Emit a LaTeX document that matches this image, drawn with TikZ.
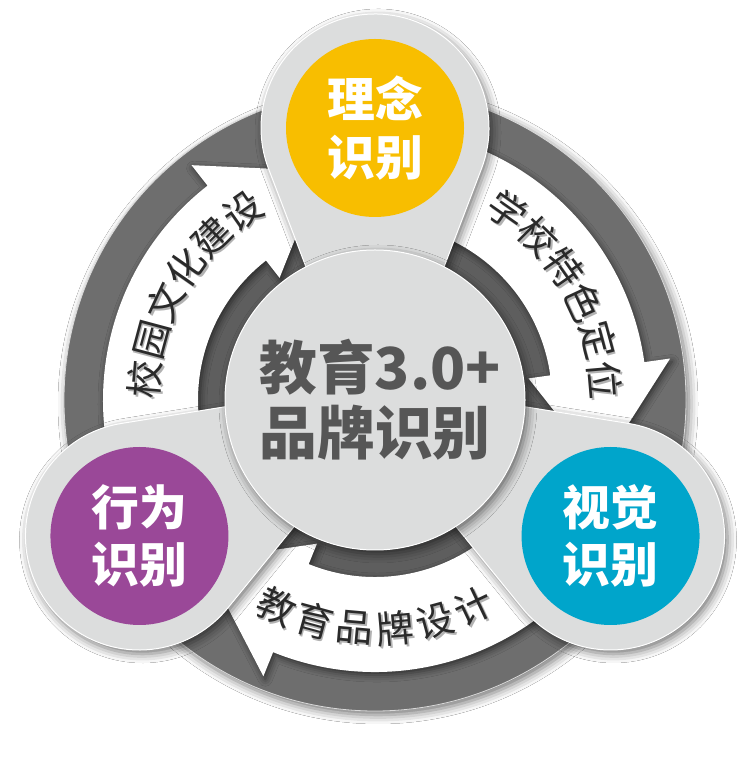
\documentclass[tikz,border=0pt]{standalone}
\usepackage{fontspec}
\newfontfamily\cjk{Noto Sans CJK SC}
\usetikzlibrary{calc,shadows.blur}
\definecolor{ringgray}{HTML}{6E6E6E}
\definecolor{innergray}{HTML}{5E5E5E}
\definecolor{satgray}{HTML}{DCDDDD}
\definecolor{cyel}{HTML}{F8BE00}
\definecolor{cpur}{HTML}{9A4898}
\definecolor{ccya}{HTML}{00A5CB}
\definecolor{ctext}{HTML}{565656}
\definecolor{atext}{HTML}{2A2A2A}
\begin{document}
\begin{tikzpicture}[x=1bp,y=1bp,
  softshadow/.style={blur shadow={shadow xshift=3bp, shadow yshift=-4bp, shadow blur radius=9bp, shadow opacity=55}},
  arrowshadow/.style={blur shadow={shadow xshift=2bp, shadow yshift=-3bp, shadow blur radius=7bp, shadow opacity=60}},
  sattext/.style={text=white, align=center, font=\cjk\bfseries\fontsize{48}{58}\selectfont, inner sep=0pt},
  centertext/.style={text=ctext, font=\cjk\bfseries\fontsize{58}{66}\selectfont, inner sep=0pt},
  arctext/.style={text=atext, font=\cjk\fontsize{38}{38}\selectfont, inner sep=0pt},
  arcshadowtext/.style={text=black, opacity=0.3, font=\cjk\fontsize{38}{38}\selectfont, inner sep=0pt}
]
\useasboundingbox (0,0) rectangle (750,762);
\fill[white] (0,0) rectangle (750,762);
\coordinate (C) at (375,362);
\begin{scope}[shift={(375,362)}]
  % outer disk
  \fill[ringgray, softshadow, draw=white!85!black, line width=0.8bp] (0,0) circle (311);
  \fill[innergray] (0,0) circle (178);
  % white arrows
  \foreach \p in {0,120,240}{
    \pgfmathsetmacro{\aS}{90+\p}
    \pgfmathsetmacro{\bB}{8+\p}
    \pgfmathsetmacro{\tT}{\bB-25}
    \fill[white, arrowshadow] (\aS:272) arc[start angle=\aS, end angle=\bB, radius=272]
      -- (\bB:298) -- (\tT:235) -- (\bB:155) -- (\bB:177)
      arc[start angle=\bB, end angle=\aS, radius=177] -- cycle;
  }
  % arc texts
  \foreach \ch [count=\i] in {校,园,文,化,建,设}{
    \pgfmathsetmacro{\th}{175-10*(\i-1)}
    \node[arcshadowtext, rotate=\th-90] at ($(\th:231)+(1.5,-2)$) {\ch};
    \node[arctext, rotate=\th-90] (la\i) at (\th:231) {\ch};
  }
  \foreach \ch [count=\i] in {学,校,特,色,定,位}{
    \pgfmathsetmacro{\th}{55-10*(\i-1)}
    \node[arcshadowtext, rotate=\th-90] at ($(\th:231)+(1.5,-2)$) {\ch};
    \node[arctext, rotate=\th-90] (ra\i) at (\th:231) {\ch};
  }
  \foreach \ch [count=\i] in {教,育,品,牌,设,计}{
    \pgfmathsetmacro{\th}{244.5+10.2*(\i-1)}
    \node[arcshadowtext, rotate=\th+90] at ($(\th:229)+(1.5,-2)$) {\ch};
    \node[arctext, rotate=\th+90] (ba\i) at (\th:229) {\ch};
  }
  % satellites
  \foreach \q in {90,210,330}{
    \pgfmathsetmacro{\tipA}{\q+180}
    \pgfmathsetmacro{\sA}{\q+249.1}
    \pgfmathsetmacro{\eA}{\q+470.9}
    \fill[satgray, softshadow, draw=white, line width=1bp] (\tipA:48) -- ($(\q:272)+(\sA:114)$)
      arc[start angle=\sA, end angle=\eA, radius=114] -- cycle;
  }
  \fill[cyel] (90:272) circle (89);
  \fill[cpur] (210:272) circle (89);
  \fill[ccya] (330:272) circle (89);
  \node[sattext] (s1) at (90:272) {理念\\识别};
  \node[sattext] (s2) at (210:272) {行为\\识别};
  \node[sattext] (s3) at (330:272) {视觉\\识别};
  % central circle
  \fill[satgray, softshadow, draw=white, line width=1bp] (0,0) circle (150);
  \node[centertext] (c1) at (5,33) {教育3.0+};
  \node[centertext] (c2) at (0,-33) {品牌识别};
\end{scope}
\end{tikzpicture}
\end{document}
